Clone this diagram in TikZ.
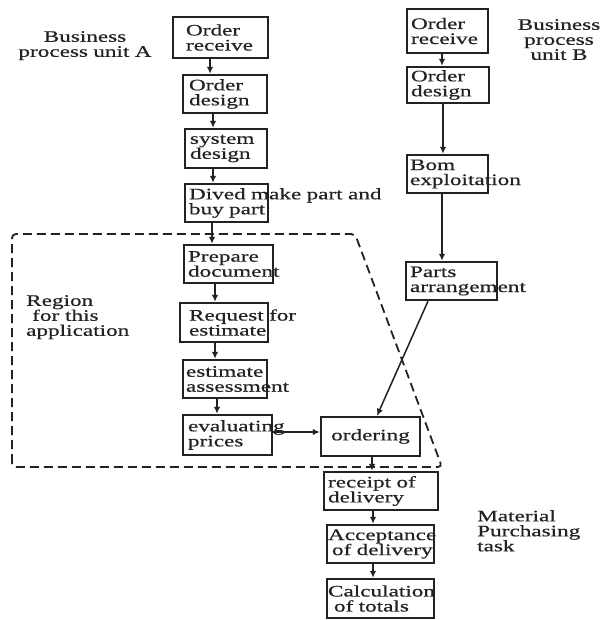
\documentclass[tikz,border=0pt]{standalone}
\usepackage{fontspec}
\setmainfont{Liberation Serif}[FakeStretch=1.45, FakeBold=0.5]
\usetikzlibrary{arrows.meta}
\hyphenpenalty=10000
\exhyphenpenalty=10000
\definecolor{ink}{RGB}{34,34,34}

\begin{document}
\begin{tikzpicture}[x=1pt, y=-1pt,
  font=\fontsize{16pt}{15pt}\selectfont,
  box/.style={draw=ink, line width=2.4pt, text=ink, align=left, inner ysep=0pt},
  lbl/.style={inner sep=0pt, text=ink},
  arr/.style={draw=ink, line width=1.5pt, -{Latex[length=7pt,width=6.5pt]}},
  region/.style={draw=ink, line width=1.8pt, dash pattern=on 9pt off 5pt, rounded corners=4pt}]

\path[use as bounding box, fill=white] (0,0) rectangle (613,620);

% business process unit A
\node[box, minimum height=41pt, inner xsep=13pt, text width=69pt] (a1) at (220.5,37.5) {Order\\receive};
\node[box, minimum height=38pt, inner xsep=6pt, text width=72pt] (a2) at (225,94) {Order\\design};
\node[box, minimum height=39pt, inner xsep=5pt, text width=72pt] (a3) at (226,148.5) {system\\design};
\node[box, minimum height=38pt, inner xsep=4pt, text width=75pt] (a4) at (226.5,203) {\mbox{Dived make part and}\\\mbox{buy part}};
\node[box, minimum height=38pt, inner xsep=4pt, text width=81pt] (a5) at (228.5,264) {Prepare\\document};
\node[box, minimum height=39pt, inner xsep=9pt, text width=70pt] (a6) at (224,322.5) {\mbox{Request for}\\estimate};
\node[box, minimum height=38pt, inner xsep=3pt, text width=78pt] (a7) at (225,379) {estimate\\assessment};
\node[box, minimum height=40pt, inner xsep=5pt, text width=79pt] (a8) at (227.5,435) {evaluating\\prices};

% business process unit B
\node[box, minimum height=44pt, inner xsep=4pt, text width=73pt] (b1) at (447.5,31) {Order\\receive};
\node[box, minimum height=36pt, inner xsep=4pt, text width=74pt] (b2) at (448,85) {Order\\design};
\node[box, minimum height=38pt, inner xsep=3pt, text width=75pt] (b3) at (447.5,174) {Bom\\exploitation};
\node[box, minimum height=38pt, inner xsep=4pt, text width=83pt] (b4) at (451.5,281) {Parts\\arrangement};

% material purchasing task
\node[box, minimum height=39pt, inner xsep=0pt, text width=99pt, align=center] (c1) at (370.5,436.5) {ordering};
\node[box, minimum height=38pt, inner xsep=4pt, text width=106pt] (c2) at (381,491) {\mbox{receipt of}\\delivery};
\node[box, minimum height=38pt, inner xsep=1pt, text width=105pt] (c3) at (380.5,544) {Acceptance\\\hspace*{4pt}\mbox{of delivery}};
\node[box, minimum height=39pt, inner xsep=1pt, text width=105pt] (c4) at (380.5,598.5) {Calculation\\\hspace*{6pt}\mbox{of totals}};

% labels
\node[lbl, align=center, text width=150pt, anchor=north] (ua) at (85,31) {Business\\\mbox{process unit A}};
\node[lbl, align=center, text width=100pt, anchor=north] (ub) at (559,19) {Business\\process\\\mbox{unit B}};
\node[lbl, align=left, anchor=north west] (rg) at (26,295) {Region\\\hspace*{6pt}\mbox{for this}\\application};
\node[lbl, align=left, anchor=north west] (mp) at (477,510) {Material\\Purchasing\\task};

% region of the application
\draw[region] (12,467) -- (12,234) -- (355,234) -- (442,467) -- cycle;

% flows
\draw[arr] (a1.south -| 210,0) -- (a2.north -| 210,0);
\draw[arr] (a2.south -| 213,0) -- (a3.north -| 213,0);
\draw[arr] (a3.south -| 213,0) -- (a4.north -| 213,0);
\draw[arr] (a4.south -| 212,0) -- (a5.north -| 212,0);
\draw[arr] (a5.south -| 215,0) -- (a6.north -| 215,0);
\draw[arr] (a6.south -| 215,0) -- (a7.north -| 215,0);
\draw[arr] (a7.south -| 217,0) -- (a8.north -| 217,0);
\draw[arr] (a8.east |- 0,432) -- (c1.west |- 0,432);

\draw[arr] (b1.south -| 442,0) -- (b2.north -| 442,0);
\draw[arr] (b2.south -| 443,0) -- (b3.north -| 443,0);
\draw[arr] (b3.south -| 442,0) -- (b4.north -| 442,0);
\draw[arr] (b4.south -| 428,0) -- (c1.north -| 377,0);

\draw[arr] (c1.south -| 372,0) -- (c2.north -| 372,0);
\draw[arr] (c2.south -| 373,0) -- (c3.north -| 373,0);
\draw[arr] (c3.south -| 373,0) -- (c4.north -| 373,0);
\end{tikzpicture}
\end{document}
